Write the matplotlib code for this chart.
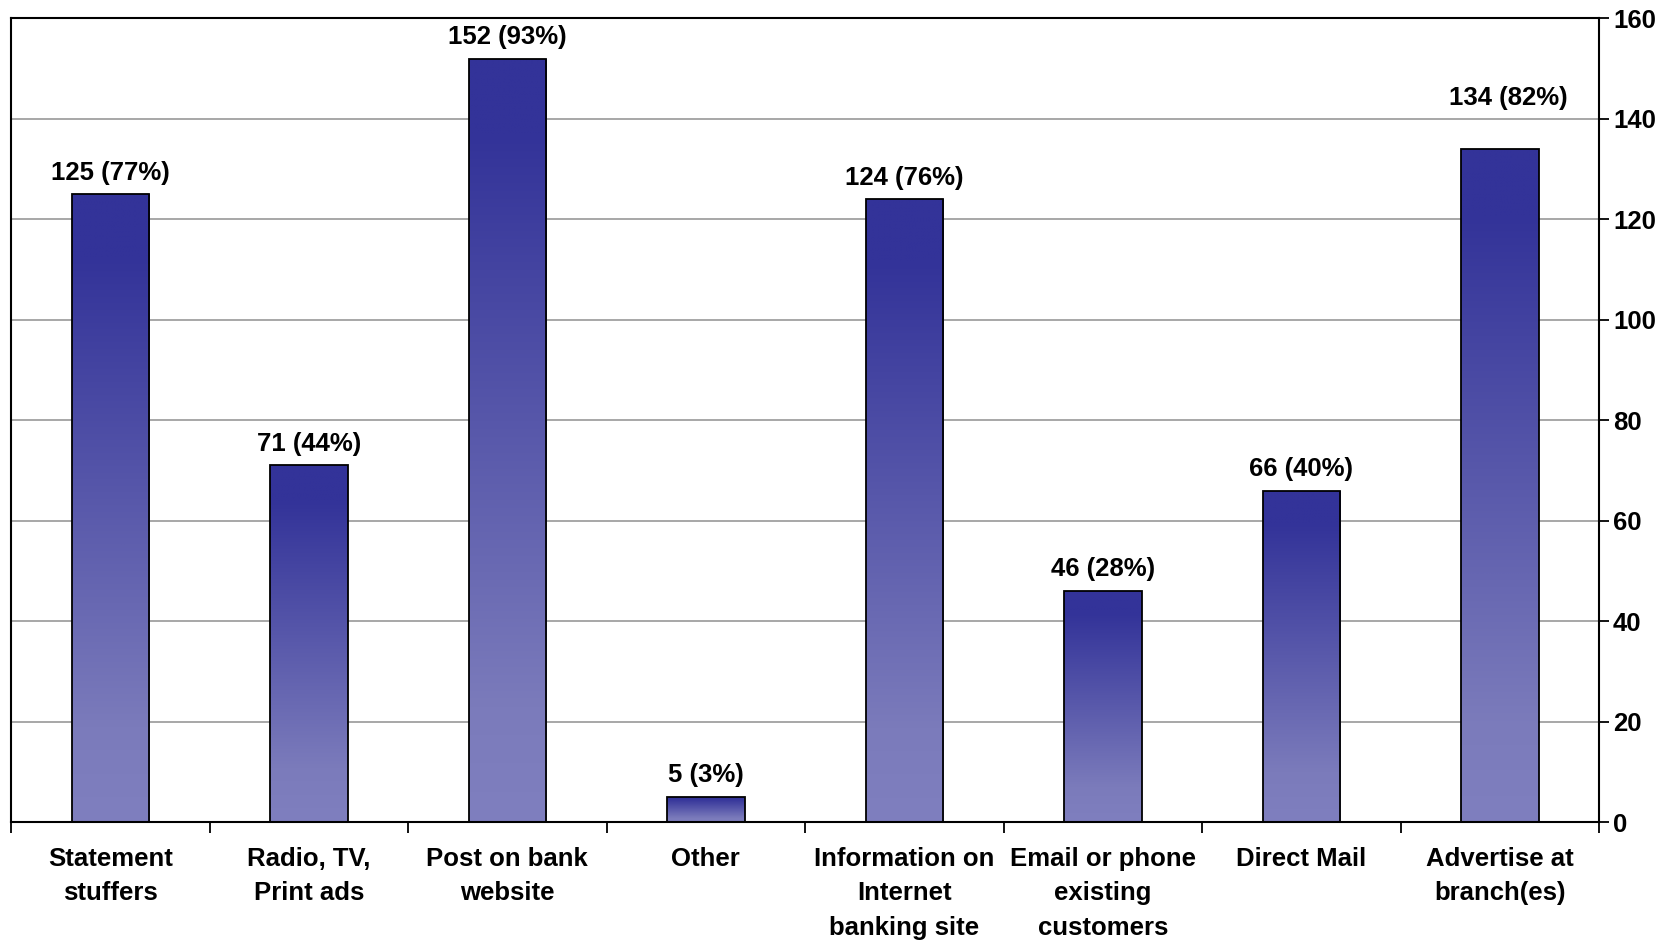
import numpy as np
import matplotlib.pyplot as plt
from matplotlib.colors import LinearSegmentedColormap

plt.rcParams['font.family'] = ['Liberation Sans', 'DejaVu Sans']
plt.rcParams['font.weight'] = 'bold'

categories = ['Statement\nstuffers', 'Radio, TV,\nPrint ads', 'Post on bank\nwebsite', 'Other',
              'Information on\nInternet\nbanking site', 'Email or phone\nexisting\ncustomers',
              'Direct Mail', 'Advertise at\nbranch(es)']
counts = [125, 71, 152, 5, 124, 46, 66, 134]
percents = [77, 44, 93, 3, 76, 28, 40, 82]
yticks = [0, 20, 40, 60, 80, 100, 120, 140, 160]

fig = plt.figure(figsize=(16.77, 9.43), dpi=100)
ax = fig.add_axes([0.0066, 0.1283, 0.9470, 0.8521])

# gradient: dark navy at top of each bar, light lavender at bottom
cmap = LinearSegmentedColormap.from_list(
    'bar', [(0.0, '#7f7fbf'), (0.15, '#7b7bbb'), (0.9, '#333399'), (1.0, '#333399')])
grad = np.linspace(0, 1, 256).reshape(-1, 1)

x = np.arange(len(categories))
w = 0.39
bars = ax.bar(x, counts, width=w, facecolor='none', edgecolor='black', linewidth=1.3, zorder=3)
for b in bars:
    bx, by = b.get_x(), b.get_y()
    bw, bh = b.get_width(), b.get_height()
    im = ax.imshow(grad, cmap=cmap, aspect='auto', origin='lower',
                   extent=[bx, bx + bw, by, by + bh], zorder=2, interpolation='bilinear')
    im.set_clip_path(b)

fs = 18.5
for i, (xi, c, p) in enumerate(zip(x, counts, percents)):
    # the last label sits higher in the original (moved by hand)
    off = (6, 28) if i == len(x) - 1 else (0, 7)
    ax.annotate('%d (%d%%)' % (c, p), (xi, c), xytext=off, textcoords='offset points',
                ha='center', va='bottom', fontsize=fs, fontweight='bold')

ax.set_xlim(-0.5, len(categories) - 0.5)
ax.set_ylim(0, 160)
ax.set_yticks(yticks)
ax.yaxis.tick_right()
ax.tick_params(axis='y', direction='out', length=7, width=1.3, labelsize=fs, pad=3)
ax.yaxis.grid(True, color='#a0a0a0', linewidth=1.3, zorder=0)
ax.set_axisbelow(True)

ax.set_xticks(np.arange(len(categories) + 1) - 0.5)
ax.set_xticklabels([])
ax.set_xticks(x, minor=True)
ax.set_xticklabels(categories, minor=True, fontsize=fs, fontweight='bold', linespacing=1.55)
ax.tick_params(axis='x', which='major', direction='out', length=8, width=1.3)
ax.tick_params(axis='x', which='minor', length=0, pad=18)

for s in ax.spines.values():
    s.set_linewidth(1.5)

fig.savefig('out.png', dpi=100)
